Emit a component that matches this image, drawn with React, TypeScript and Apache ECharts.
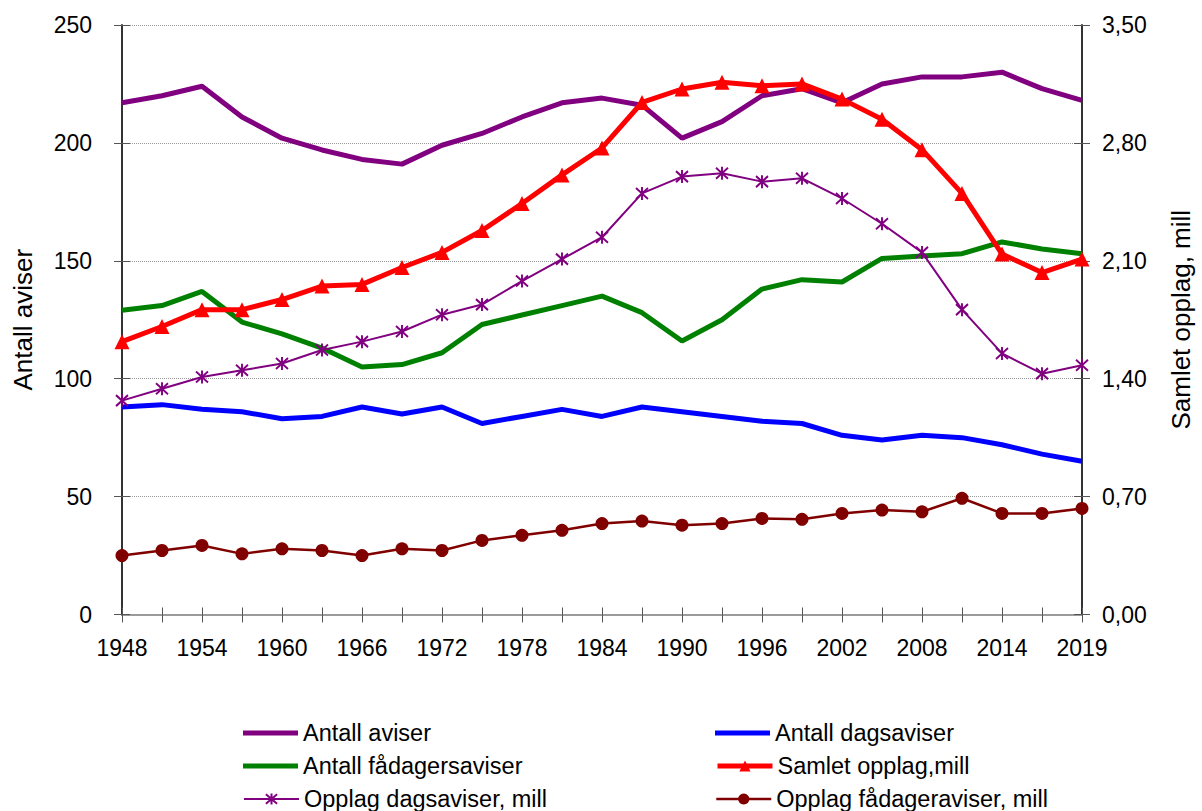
import React, { useEffect, useRef } from 'react';
import * as echarts from 'echarts';

const years = ['1948', '1951', '1954', '1957', '1960', '1963', '1966', '1969', '1972', '1975', '1978', '1981', '1984', '1987', '1990', '1993', '1996', '1999', '2002', '2005', '2008', '2011', '2014', '2017', '2019'];

const antallAviser = [217, 220, 224, 211, 202, 197, 193, 191, 199, 204, 211, 217, 219, 216, 202, 209, 220, 223, 217, 225, 228, 228, 230, 223, 218];
const antallDagsaviser = [88, 89, 87, 86, 83, 84, 88, 85, 88, 81, 84, 87, 84, 88, 86, 84, 82, 81, 76, 74, 76, 75, 72, 68, 65];
const antallFadagersaviser = [129, 131, 137, 124, 119, 113, 105, 106, 111, 123, 127, 131, 135, 128, 116, 125, 138, 142, 141, 151, 152, 153, 158, 155, 153];
const samletOpplag = [1.62, 1.71, 1.81, 1.81, 1.87, 1.95, 1.96, 2.06, 2.15, 2.28, 2.44, 2.61, 2.77, 3.04, 3.12, 3.16, 3.14, 3.15, 3.06, 2.94, 2.76, 2.5, 2.14, 2.03, 2.11];
const opplagDagsaviser = [1.27, 1.34, 1.41, 1.45, 1.49, 1.57, 1.62, 1.68, 1.78, 1.84, 1.98, 2.11, 2.24, 2.5, 2.6, 2.62, 2.57, 2.59, 2.47, 2.32, 2.15, 1.81, 1.55, 1.43, 1.48];
const opplagFadageraviser = [0.35, 0.38, 0.41, 0.36, 0.39, 0.38, 0.35, 0.39, 0.38, 0.44, 0.47, 0.5, 0.54, 0.555, 0.53, 0.54, 0.57, 0.565, 0.6, 0.62, 0.61, 0.69, 0.6, 0.6, 0.63];

const seriesNames = [
  'Antall aviser',
  'Antall dagsaviser',
  'Antall fådagersaviser',
  'Samlet opplag,mill',
  'Opplag dagsaviser, mill',
  'Opplag fådageraviser, mill',
];

const leftAxisTitle = 'Antall aviser';
const rightAxisTitle = 'Samlet opplag, mill';

export default function App() {
  const ref = useRef<HTMLDivElement>(null);

  useEffect(() => {
    if (!ref.current) return;
    const chart = echarts.init(ref.current, null, { renderer: 'svg' });
    const font = 'Liberation Sans, Arial, Helvetica, sans-serif';
    const axisText = { color: '#000', fontSize: 23, fontFamily: font };
    const titleText = { color: '#000', fontSize: 26, fontFamily: font };
    const axisLineStyle = { color: '#333', width: 2 };
    const tickStyle = { color: '#555', width: 1 };
    const rightFmt = (v: number) => v.toFixed(2).replace('.', ',');

    const legendPos = [
      { left: 243, top: 721, plain: true, lw: 5 },
      { left: 715, top: 721, plain: true, lw: 5 },
      { left: 243, top: 754, plain: true, lw: 5 },
      { left: 715, top: 754, plain: false, lw: 5 },
      { left: 243, top: 787, plain: false, lw: 2 },
      { left: 715, top: 787, plain: false, lw: 2.5 },
    ];

    const option: any = {
      animation: false,
      backgroundColor: '#fff',
      textStyle: { fontFamily: font },
      grid: { left: 122, right: 120, top: 25, bottom: 196.5, containLabel: false },
      legend: seriesNames.map((n, i) => {
        const p = legendPos[i];
        const base: any = {
          data: [n],
          left: p.left,
          top: p.top,
          padding: 0,
          itemWidth: 55,
          itemHeight: p.plain ? 5 : 14,
          selectedMode: false,
          lineStyle: { width: p.lw },
          textStyle: { color: '#000', fontSize: 23.5, fontFamily: font, lineHeight: 24 },
        };
        if (p.plain) base.icon = 'rect';
        return base;
      }),
      xAxis: [
        {
          type: 'category',
          data: years,
          boundaryGap: false,
          position: 'bottom',
          axisLine: { lineStyle: axisLineStyle },
          axisTick: { show: true, interval: 0, length: 8, lineStyle: tickStyle },
          axisLabel: { ...axisText, interval: 1, margin: 22 },
          splitLine: { show: false },
        },
        {
          type: 'category',
          data: years,
          boundaryGap: false,
          position: 'bottom',
          axisLine: { show: false },
          axisTick: { show: true, inside: true, interval: 0, length: 7, lineStyle: tickStyle },
          axisLabel: { show: false },
          splitLine: { show: false },
        },
        {
          type: 'category',
          data: years,
          boundaryGap: false,
          position: 'top',
          axisLine: { show: true, lineStyle: { color: '#9a9a9a', width: 2 } },
          axisTick: { show: false },
          axisLabel: { show: false },
          splitLine: { show: false },
        },
      ],
      yAxis: [
        {
          type: 'value',
          min: 0,
          max: 250,
          interval: 50,
          position: 'left',
          name: leftAxisTitle,
          nameLocation: 'middle',
          nameGap: 86,
          nameTextStyle: { ...titleText },
          axisLine: { show: true, lineStyle: axisLineStyle },
          axisTick: { show: true, length: 8, lineStyle: tickStyle },
          axisLabel: { ...axisText, margin: 30 },
          splitLine: { show: true, lineStyle: { type: 'dotted', color: '#999', width: 1 } },
        },
        {
          type: 'value',
          min: 0,
          max: 3.5,
          interval: 0.7,
          position: 'right',
          name: rightAxisTitle,
          nameLocation: 'middle',
          nameGap: 86,
          nameRotate: 90,
          nameTextStyle: { ...titleText },
          axisLine: { show: true, lineStyle: axisLineStyle },
          axisTick: { show: true, length: 8, lineStyle: tickStyle },
          axisLabel: { ...axisText, margin: 20, formatter: rightFmt },
          splitLine: { show: false },
        },
        {
          type: 'value',
          min: 0,
          max: 250,
          interval: 50,
          position: 'left',
          axisLine: { show: false },
          axisTick: { show: true, inside: true, length: 8, lineStyle: tickStyle },
          axisLabel: { show: false },
          splitLine: { show: false },
        },
        {
          type: 'value',
          min: 0,
          max: 3.5,
          interval: 0.7,
          position: 'right',
          axisLine: { show: false },
          axisTick: { show: true, inside: true, length: 8, lineStyle: tickStyle },
          axisLabel: { show: false },
          splitLine: { show: false },
        },
      ],
      series: [
        {
          name: seriesNames[0],
          type: 'line',
          data: antallAviser,
          yAxisIndex: 0,
          symbol: 'none',
          color: '#800080',
          lineStyle: { color: '#800080', width: 5 },
        },
        {
          name: seriesNames[1],
          type: 'line',
          data: antallDagsaviser,
          yAxisIndex: 0,
          symbol: 'none',
          color: '#0000ff',
          lineStyle: { color: '#0000ff', width: 5 },
        },
        {
          name: seriesNames[2],
          type: 'line',
          data: antallFadagersaviser,
          yAxisIndex: 0,
          symbol: 'none',
          color: '#008000',
          lineStyle: { color: '#008000', width: 5 },
        },
        {
          name: seriesNames[3],
          type: 'line',
          data: samletOpplag,
          yAxisIndex: 1,
          symbol: 'triangle',
          symbolSize: 15,
          color: '#ff0000',
          itemStyle: { color: '#ff0000' },
          lineStyle: { color: '#ff0000', width: 5 },
        },
        {
          name: seriesNames[4],
          type: 'line',
          data: opplagDagsaviser,
          yAxisIndex: 1,
          symbol: 'path://M1,1L11,12M11,1L1,12M6,0L6,13',
          symbolSize: [12, 13],
          color: '#800080',
          itemStyle: { color: '#800080', borderColor: '#800080', borderWidth: 2 },
          lineStyle: { color: '#800080', width: 2 },
        },
        {
          name: seriesNames[5],
          type: 'line',
          data: opplagFadageraviser,
          yAxisIndex: 1,
          symbol: 'circle',
          symbolSize: 13,
          color: '#800000',
          itemStyle: { color: '#800000', borderWidth: 0 },
          lineStyle: { color: '#800000', width: 2.5 },
        },
      ],
    };

    chart.setOption(option);
    return () => chart.dispose();
  }, []);

  return (
    <div
      ref={ref}
      style={{ position: 'fixed', left: 0, top: 0, width: 1202, height: 811, background: '#fff' }}
    />
  );
}
